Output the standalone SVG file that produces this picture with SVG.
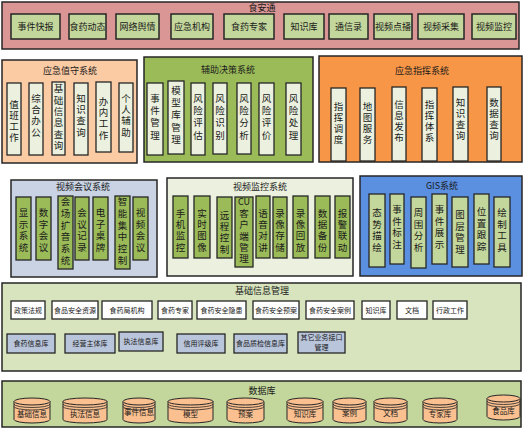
<svg xmlns="http://www.w3.org/2000/svg" width="525" height="429" viewBox="0 0 525 429">
<style>
text{font-family:"Noto Sans CJK SC","Noto Sans",sans-serif;fill:#1a1a1a;text-anchor:middle}
.fr{stroke:#262626;stroke-width:1.5}
.btn{fill:#c3d69b;stroke:#262626;stroke-width:1.5}
.col{stroke:#262626;stroke-width:1.3}
.c1{fill:#ebf1de}
.c2{fill:#9bbb59}
.c3{fill:#c3d69b}
.w{fill:#ffffff;stroke:#262626;stroke-width:1.3}
.b{fill:#b9c5db;stroke:#262626;stroke-width:1.3}
.cy{fill:#fac090;stroke:#262626;stroke-width:1}
.cl{fill:none;stroke:#262626;stroke-width:0.8}
.ti{font-size:9px}
.t{font-size:9px}
.v{font-size:9.5px;writing-mode:vertical-rl;text-orientation:upright;dominant-baseline:central}
.v1{letter-spacing:1.8px}
.v2{letter-spacing:2.8px}
.v3{letter-spacing:1.5px}
.v4{letter-spacing:2.2px}
.v5{letter-spacing:1.8px}
.cu{font-size:9px}
.s{font-size:7px}
.d{font-size:7.5px}
</style>
<g id="connectors"></g>

<g id="shiantong">
<rect class="fr" x="2" y="2" width="517" height="47" fill="#d99694"/>
<text class="ti" x="262" y="11">食安通</text>
<g id="sa1"><rect class="btn" x="11" y="14" width="49" height="25"/><text class="t" x="35.5" y="30">事件快报</text></g>
<g id="sa2"><rect class="btn" x="69" y="14" width="37" height="25"/><text class="t" x="87.5" y="30">食药动态</text></g>
<g id="sa3"><rect class="btn" x="116" y="14" width="43" height="25"/><text class="t" x="137.5" y="30">网络舆情</text></g>
<g id="sa4"><rect class="btn" x="171" y="14" width="42" height="25"/><text class="t" x="192" y="30">应急机构</text></g>
<g id="sa5"><rect class="btn" x="224" y="14" width="50" height="25"/><text class="t" x="249" y="30">食药专家</text></g>
<g id="sa6"><rect class="btn" x="284" y="14" width="40" height="25"/><text class="t" x="304" y="30">知识库</text></g>
<g id="sa7"><rect class="btn" x="329" y="14" width="39" height="25"/><text class="t" x="348.5" y="30">通信录</text></g>
<g id="sa8"><rect class="btn" x="374" y="14" width="38" height="25"/><text class="t" x="393" y="30">视频点播</text></g>
<g id="sa9"><rect class="btn" x="418" y="14" width="46" height="25"/><text class="t" x="441" y="30">视频采集</text></g>
<g id="sa10"><rect class="btn" x="472" y="14" width="44" height="25"/><text class="t" x="494" y="30">视频监控</text></g>
</g>

<g id="yingjizhishou">
<rect class="fr" x="2" y="60" width="135" height="103" fill="#fbcba4"/>
<text class="ti" x="70" y="74">应急值守系统</text>
<g id="zs1"><rect class="col c1" x="7" y="83" width="14" height="72"/><text class="v v3" x="14" y="122">值班工作</text></g>
<g id="zs2"><rect class="col c1" x="29" y="83" width="14" height="72"/><text class="v v1" x="36" y="116">综合办公</text></g>
<g id="zs3"><rect class="col c1" x="52" y="82" width="13" height="73"/><text class="v v1" x="58.5" y="118">基础信息查询</text></g>
<g id="zs4"><rect class="col c1" x="74" y="83" width="14" height="72"/><text class="v v1" x="81" y="116">知识查询</text></g>
<g id="zs5"><rect class="col c1" x="96" y="82" width="15" height="70"/><text class="v v1" x="103.5" y="119">办内工作</text></g>
<g id="zs6"><rect class="col c1" x="119" y="83" width="14" height="69"/><text class="v v1" x="126" y="116">个人辅助</text></g>
</g>

<g id="fuzhujuece">
<rect class="fr" x="144" y="57" width="169" height="105" fill="#9bbb59"/>
<text class="ti" x="228" y="73">辅助决策系统</text>
<g id="fz1"><rect class="col c1" x="147" y="83" width="16" height="72"/><text class="v v2" x="155" y="118">事件管理</text></g>
<g id="fz2"><rect class="col c1" x="168" y="81" width="16" height="73"/><text class="v v2" x="176" y="116">模型库管理</text></g>
<g id="fz3"><rect class="col c1" x="191" y="83" width="14" height="72"/><text class="v v2" x="198" y="118">风险评估</text></g>
<g id="fz4"><rect class="col c1" x="213" y="83" width="14" height="71"/><text class="v v2" x="220" y="118">风险识别</text></g>
<g id="fz5"><rect class="col c1" x="237" y="83" width="14" height="71"/><text class="v v2" x="244" y="118">风险分析</text></g>
<g id="fz6"><rect class="col c1" x="259" y="83" width="15" height="72"/><text class="v v2" x="266.5" y="118">风险评价</text></g>
<g id="fz7"><rect class="col c1" x="286" y="83" width="15" height="72"/><text class="v v2" x="293.5" y="118">风险处理</text></g>
</g>

<g id="yingjizhihui">
<rect class="fr" x="319" y="56" width="203" height="106" fill="#f79646"/>
<text class="ti" x="422" y="74">应急指挥系统</text>
<g id="zh1"><rect class="col c1" x="331" y="88" width="15" height="73"/><text class="v v3" x="338.5" y="124">指挥调度</text></g>
<g id="zh2"><rect class="col c1" x="360" y="88" width="15" height="73"/><text class="v v3" x="367.5" y="124">地图服务</text></g>
<g id="zh3"><rect class="col c1" x="392" y="87" width="14" height="74"/><text class="v v3" x="399" y="122">信息发布</text></g>
<g id="zh4"><rect class="col c1" x="422" y="88" width="15" height="73"/><text class="v v3" x="429.5" y="122">指挥体系</text></g>
<g id="zh5"><rect class="col c1" x="453" y="87" width="15" height="74"/><text class="v v3" x="460.5" y="120">知识查询</text></g>
<g id="zh6"><rect class="col c1" x="487" y="87" width="14" height="74"/><text class="v v3" x="494" y="120">数据查询</text></g>
</g>

<g id="shipinhuiyi">
<rect class="fr" x="11" y="180" width="146" height="97" fill="#c9d3e3"/>
<text class="ti" x="83" y="190">视频会议系统</text>
<g id="hy1"><rect class="col c2" x="16" y="197" width="15" height="63"/><text class="v v4" x="23.5" y="231">显示系统</text></g>
<g id="hy2"><rect class="col c2" x="36" y="197" width="15" height="63"/><text class="v v4" x="43.5" y="231">数字会议</text></g>
<g id="hy3"><rect class="col c2" x="58" y="196" width="15" height="73"/><text class="v v4" x="65.5" y="232">会场扩音系统</text></g>
<g id="hy4"><rect class="col c2" x="75" y="197" width="14" height="63"/><text class="v v4" x="82" y="231">会议记录</text></g>
<g id="hy5"><rect class="col c2" x="93" y="197" width="15" height="63"/><text class="v v4" x="100.5" y="231">电子桌牌</text></g>
<g id="hy6"><rect class="col c2" x="115" y="196" width="15" height="73"/><text class="v v4" x="122.5" y="232">智能集中控制</text></g>
<g id="hy7"><rect class="col c2" x="133" y="197" width="15" height="63"/><text class="v v4" x="140.5" y="231">视频会议</text></g>
</g>

<g id="shipinjiankong">
<rect class="fr" x="167" y="178" width="186" height="98" fill="#ebf1de"/>
<text class="ti" x="260" y="190">视频监控系统</text>
<g id="jk1"><rect class="col c2" x="173" y="196" width="15" height="62"/><text class="v v5" x="180.5" y="231">手机监控</text></g>
<g id="jk2"><rect class="col c2" x="194" y="196" width="16" height="62"/><text class="v v5" x="202" y="231">实时图像</text></g>
<g id="jk3"><rect class="col c2" x="217" y="197" width="15" height="61"/><text class="v v5" x="224.5" y="233">远程控制</text></g>
<g id="jk4"><rect class="col c2" x="235" y="197" width="18" height="70"/><text class="cu" x="244" y="205">CU</text><text class="v v5" x="244" y="237">客户端管理</text></g>
<g id="jk5"><rect class="col c2" x="256" y="196" width="14" height="62"/><text class="v v5" x="263" y="231">语音对讲</text></g>
<g id="jk6"><rect class="col c2" x="273" y="197" width="14" height="61"/><text class="v v5" x="280" y="231">录像存储</text></g>
<g id="jk7"><rect class="col c2" x="293" y="196" width="15" height="62"/><text class="v v5" x="300.5" y="231">录像回放</text></g>
<g id="jk8"><rect class="col c2" x="315" y="196" width="15" height="62"/><text class="v v5" x="322.5" y="231">数据备份</text></g>
<g id="jk9"><rect class="col c2" x="335" y="196" width="15" height="62"/><text class="v v5" x="342.5" y="231">报警联动</text></g>
</g>

<g id="gis">
<rect class="fr" x="360" y="176" width="162" height="100" fill="#5b8fe0"/>
<text class="ti" x="442" y="189">GIS系统</text>
<g id="gs1"><rect class="col c3" x="369" y="194" width="16" height="73"/><text class="v v4" x="377" y="231">态势描绘</text></g>
<g id="gs2"><rect class="col c3" x="390" y="194" width="14" height="70"/><text class="v v4" x="397" y="228">事件标注</text></g>
<g id="gs3"><rect class="col c3" x="411" y="197" width="15" height="71"/><text class="v v4" x="418.5" y="231">周围分析</text></g>
<g id="gs4"><rect class="col c3" x="432" y="194" width="15" height="70"/><text class="v v4" x="439.5" y="228">事件展示</text></g>
<g id="gs5"><rect class="col c3" x="452" y="197" width="16" height="70"/><text class="v v4" x="460" y="233">图层管理</text></g>
<g id="gs6"><rect class="col c3" x="474" y="194" width="15" height="70"/><text class="v v4" x="481.5" y="230">位置跟踪</text></g>
<g id="gs7"><rect class="col c3" x="494" y="197" width="16" height="70"/><text class="v v4" x="502" y="231">绘制工具</text></g>
</g>

<g id="jichuxinxi">
<rect class="fr" x="2" y="283" width="519" height="88" fill="#d7e4bd"/>
<text class="ti" x="262" y="294">基础信息管理</text>
<g id="jc1"><rect class="w" x="11" y="301" width="34" height="18"/><text class="s" x="28" y="312.5">政策法规</text></g>
<g id="jc2"><rect class="w" x="52" y="301" width="46" height="18"/><text class="s" x="75" y="312.5">食品安全资源</text></g>
<g id="jc3"><rect class="w" x="102" y="301" width="50" height="18"/><text class="s" x="127" y="312.5">食药局机构</text></g>
<g id="jc4"><rect class="w" x="158" y="301" width="34" height="18"/><text class="s" x="175" y="312.5">食药专家</text></g>
<g id="jc5"><rect class="w" x="197" y="301" width="49" height="18"/><text class="s" x="221.5" y="312.5">食药安全隐患</text></g>
<g id="jc6"><rect class="w" x="253" y="301" width="46" height="18"/><text class="s" x="276" y="312.5">食药安全预案</text></g>
<g id="jc7"><rect class="w" x="306" y="301" width="48" height="18"/><text class="s" x="330" y="312.5">食药安全案例</text></g>
<g id="jc8"><rect class="w" x="362" y="301" width="28" height="18"/><text class="s" x="376" y="312.5">知识库</text></g>
<g id="jc9"><rect class="w" x="397" y="301" width="30" height="18"/><text class="s" x="412" y="312.5">文档</text></g>
<g id="jc10"><rect class="w" x="433" y="301" width="34" height="18"/><text class="s" x="450" y="312.5">行政工作</text></g>
<g id="jc11"><rect class="b" x="7" y="334" width="48" height="19"/><text class="s" x="31" y="346">食药信息库</text></g>
<g id="jc12"><rect class="b" x="65" y="334" width="50" height="19"/><text class="s" x="90" y="346">经营主体库</text></g>
<g id="jc13"><rect class="b" x="119" y="332" width="44" height="19"/><text class="s" x="141" y="344">执法信息库</text></g>
<g id="jc14"><rect class="b" x="177" y="334" width="48" height="19"/><text class="s" x="201" y="346">信用评级库</text></g>
<g id="jc15"><rect class="b" x="234" y="334" width="53" height="19"/><text class="s" x="260.5" y="346">食品质检信息库</text></g>
<g id="jc16"><rect class="b" x="298" y="332" width="47" height="21"/><text class="s" x="321.5" y="340">其它业务接口</text><text class="s" x="321.5" y="350">管理</text></g>
</g>

<g id="shujuku">
<rect class="fr" x="2" y="381" width="519" height="46" fill="#c3d69b"/>
<text class="ti" x="262" y="394">数据库</text>
<g id="db1"><path class="cy" d="M14,401.5V419.5A18,3.5 0 0 0 50,419.5V401.5Z"/><ellipse class="cy" cx="32" cy="401.5" rx="18" ry="3.5"/><path class="cl" d="M14,404A18,3.5 0 0 0 50,404M14,406.5A18,3.5 0 0 0 50,406.5"/><text class="d" x="32" y="416.5">基础信息</text></g>
<g id="db2"><path class="cy" d="M63,401.5V419.5A22,3.5 0 0 0 107,419.5V401.5Z"/><ellipse class="cy" cx="85" cy="401.5" rx="22" ry="3.5"/><path class="cl" d="M63,404A22,3.5 0 0 0 107,404M63,406.5A22,3.5 0 0 0 107,406.5"/><text class="d" x="85" y="416.5">执法信息</text></g>
<g id="db3"><path class="cy" d="M123,401.5V419.5A16,3.5 0 0 0 155,419.5V401.5Z"/><ellipse class="cy" cx="139" cy="401.5" rx="16" ry="3.5"/><path class="cl" d="M123,404A16,3.5 0 0 0 155,404M123,406.5A16,3.5 0 0 0 155,406.5"/><text class="d" x="139" y="414.5">事件信息</text></g>
<g id="db4"><path class="cy" d="M168,401.5V419.5A22.5,3.5 0 0 0 213,419.5V401.5Z"/><ellipse class="cy" cx="190.5" cy="401.5" rx="22.5" ry="3.5"/><path class="cl" d="M168,404A22.5,3.5 0 0 0 213,404M168,406.5A22.5,3.5 0 0 0 213,406.5"/><text class="d" x="190.5" y="417">模型</text></g>
<g id="db5"><path class="cy" d="M227,401.5V419.5A18.5,3.5 0 0 0 264,419.5V401.5Z"/><ellipse class="cy" cx="245.5" cy="401.5" rx="18.5" ry="3.5"/><path class="cl" d="M227,404A18.5,3.5 0 0 0 264,404M227,406.5A18.5,3.5 0 0 0 264,406.5"/><text class="d" x="245.5" y="417">预案</text></g>
<g id="db6"><path class="cy" d="M287,401.5V419.5A18,3.5 0 0 0 323,419.5V401.5Z"/><ellipse class="cy" cx="305" cy="401.5" rx="18" ry="3.5"/><path class="cl" d="M287,404A18,3.5 0 0 0 323,404M287,406.5A18,3.5 0 0 0 323,406.5"/><text class="d" x="305" y="417">知识库</text></g>
<g id="db7"><path class="cy" d="M333,401.5V419.5A16.5,3.5 0 0 0 366,419.5V401.5Z"/><ellipse class="cy" cx="349.5" cy="401.5" rx="16.5" ry="3.5"/><path class="cl" d="M333,404A16.5,3.5 0 0 0 366,404M333,406.5A16.5,3.5 0 0 0 366,406.5"/><text class="d" x="349.5" y="416">案例</text></g>
<g id="db8"><path class="cy" d="M374,401.5V419.5A16.5,3.5 0 0 0 407,419.5V401.5Z"/><ellipse class="cy" cx="390.5" cy="401.5" rx="16.5" ry="3.5"/><path class="cl" d="M374,404A16.5,3.5 0 0 0 407,404M374,406.5A16.5,3.5 0 0 0 407,406.5"/><text class="d" x="390.5" y="416">文档</text></g>
<g id="db9"><path class="cy" d="M423,401.5V419.5A17,3.5 0 0 0 457,419.5V401.5Z"/><ellipse class="cy" cx="440" cy="401.5" rx="17" ry="3.5"/><path class="cl" d="M423,404A17,3.5 0 0 0 457,404M423,406.5A17,3.5 0 0 0 457,406.5"/><text class="d" x="440" y="417">专家库</text></g>
<g id="db10"><path class="cy" d="M487,398.5V416.5A16.5,3.5 0 0 0 520,416.5V398.5Z"/><ellipse class="cy" cx="503.5" cy="398.5" rx="16.5" ry="3.5"/><path class="cl" d="M487,401A16.5,3.5 0 0 0 520,401M487,403.5A16.5,3.5 0 0 0 520,403.5"/><text class="d" x="503.5" y="413.5">食品库</text></g>
</g>
</svg>
